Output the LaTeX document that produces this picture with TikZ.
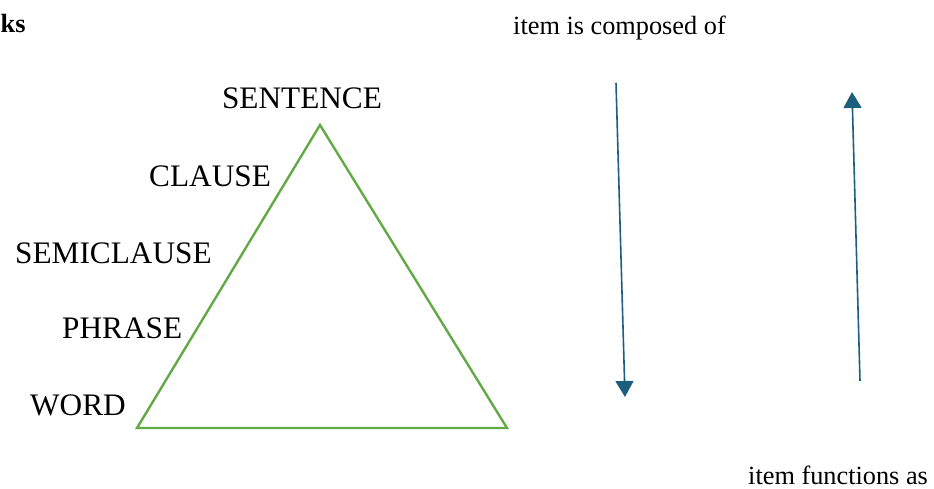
\documentclass[tikz,border=0pt]{standalone}
\usepackage{fontspec}
\setmainfont{Liberation Serif}
\usepackage{xcolor}
\usetikzlibrary{positioning, arrows.meta}

\definecolor{trigreen}{RGB}{98,170,70}
\definecolor{arrowteal}{RGB}{28,94,126}

\begin{document}
\begin{tikzpicture}[
    x=1pt, y=-1pt,
    level/.style={anchor=base west, inner sep=0pt, font=\fontsize{31.3}{36}\selectfont},
    note/.style={anchor=base west, inner sep=0pt, font=\fontsize{26.3}{30}\selectfont},
    heading/.style={anchor=base west, inner sep=0pt, font=\fontsize{26.3}{30}\selectfont\bfseries},
    pyramid/.style={draw=trigreen, line width=2.4pt, line join=miter},
    flow/.style={draw=arrowteal, line width=1.6pt, -{Triangle[width=18pt,length=16pt]}}
]
    \useasboundingbox (0,0) rectangle (934,489);

    % Heading and direction notes
    \node[heading] (title) at (0.5,33) {ks};
    \node[note] (composed) at (513,35) {item is composed of};
    \node[note] (functions) at (748,484) {item functions as};

    % Level labels
    \node[level, anchor=base] (sentence) at (302,109) {SENTENCE};
    \node[level] (clause) at (149,187) {CLAUSE};
    \node[level] (semiclause) at (15,263) {SEMICLAUSE};
    \node[level] (phrase) at (62,338) {PHRASE};
    \node[level] (word) at (30,415) {WORD};

    % Triangle corners
    \coordinate (apex) at (320,125);
    \coordinate (left) at (137,428);
    \coordinate (right) at (507,428);
    \draw[pyramid] (apex) -- (left) -- (right) -- cycle;

    % Arrows
    \coordinate (downtop) at (616,83);
    \coordinate (downend) at (625,397);
    \coordinate (upbase) at (860,381);
    \coordinate (uptop) at (852,92);
    \draw[flow] (downtop) -- (downend);
    \draw[flow] (upbase) -- (uptop);
\end{tikzpicture}
\end{document}
